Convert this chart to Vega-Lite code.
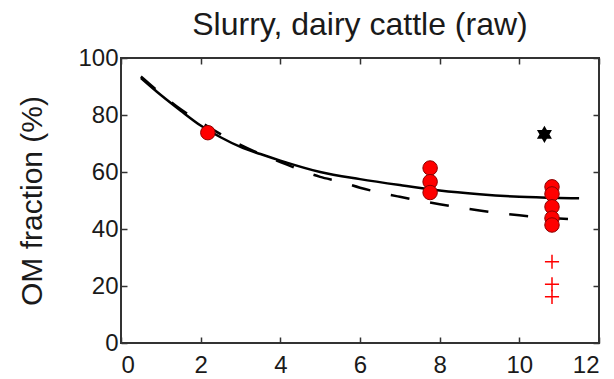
{
  "$schema": "https://vega.github.io/schema/vega-lite/v6.json",
  "width": 478,
  "height": 285,
  "autosize": "none",
  "padding": {"left": 121, "top": 58, "right": 15, "bottom": 36},
  "background": "white",
  "config": {
    "font": "Liberation Sans",
    "view": {"stroke": "#333", "strokeWidth": 2},
    "axis": {"grid": false, "domain": false, "tickColor": "#333", "tickSize": -6, "tickWidth": 1.5, "labelFont": "Liberation Sans", "labelFontSize": 24, "labelColor": "#1a1a1a", "titleFont": "Liberation Sans", "titleColor": "#1a1a1a", "titleFontWeight": "normal"}
  },
  "title": {"text": "Slurry, dairy cattle (raw)", "font": "Liberation Sans", "fontSize": 32, "fontWeight": "normal", "color": "#1a1a1a", "offset": 4},
  "datasets": {
    "solid": [
      {"x": 0.5, "y": 93}, {"x": 1, "y": 87}, {"x": 1.5, "y": 81.5}, {"x": 2, "y": 76.3},
      {"x": 2.5, "y": 72.2}, {"x": 3, "y": 68.8}, {"x": 3.5, "y": 66.3}, {"x": 4, "y": 64},
      {"x": 5, "y": 60}, {"x": 6, "y": 57.5}, {"x": 7, "y": 55.4}, {"x": 8, "y": 53.5},
      {"x": 9, "y": 52.2}, {"x": 10, "y": 51.3}, {"x": 11, "y": 50.9}, {"x": 11.5, "y": 50.8}
    ],
    "dashed": [
      {"x": 0.5, "y": 93.5}, {"x": 1, "y": 87.5}, {"x": 1.5, "y": 82}, {"x": 2, "y": 77.5},
      {"x": 3, "y": 69.5}, {"x": 4, "y": 63.5}, {"x": 5, "y": 58.3}, {"x": 5.5, "y": 56.6},
      {"x": 6, "y": 54.5}, {"x": 7, "y": 51.3}, {"x": 8, "y": 48.7}, {"x": 9, "y": 46.5},
      {"x": 10, "y": 44.8}, {"x": 11, "y": 43.7}, {"x": 11.5, "y": 43.2}
    ],
    "circles": [
      {"x": 2.18, "y": 73.8},
      {"x": 7.76, "y": 61.4}, {"x": 7.76, "y": 56.6}, {"x": 7.76, "y": 52.8},
      {"x": 10.82, "y": 54.8}, {"x": 10.82, "y": 52.3}, {"x": 10.82, "y": 47.8}, {"x": 10.82, "y": 43.8}, {"x": 10.82, "y": 41.4}
    ],
    "star": [{"x": 10.63, "y": 73.2}],
    "plus": [{"x": 10.82, "y": 28.5}, {"x": 10.82, "y": 20.6}, {"x": 10.82, "y": 16.2}]
  },
  "layer": [
    {
      "data": {"name": "solid"},
      "mark": {"type": "line", "color": "black", "strokeWidth": 2.5, "interpolate": "monotone"},
      "encoding": {
        "x": {"field": "x", "type": "quantitative", "scale": {"domain": [0, 12]}, "axis": {"values": [0, 2, 4, 6, 8, 10, 12], "title": null, "labelPadding": 16}},
        "y": {"field": "y", "type": "quantitative", "scale": {"domain": [0, 100]}, "axis": {"values": [0, 20, 40, 60, 80, 100], "title": "OM fraction (%)", "titleFontSize": 30, "labelPadding": 9, "titlePadding": 30}}
      }
    },
    {
      "data": {"name": "dashed"},
      "mark": {"type": "line", "color": "black", "strokeWidth": 2.5, "strokeDash": [19, 21], "interpolate": "monotone"},
      "encoding": {
        "x": {"field": "x", "type": "quantitative", "axis": {"orient": "top", "values": [0, 2, 4, 6, 8, 10, 12], "labels": false, "title": null}},
        "y": {"field": "y", "type": "quantitative", "axis": {"orient": "right", "values": [0, 20, 40, 60, 80, 100], "labels": false, "title": null}}
      }
    },
    {
      "data": {"name": "circles"},
      "mark": {"type": "point", "shape": "circle", "filled": true, "fill": "#ff0000", "stroke": "#8b0000", "strokeWidth": 1, "size": 210, "opacity": 1},
      "encoding": {
        "x": {"field": "x", "type": "quantitative", "axis": null},
        "y": {"field": "y", "type": "quantitative", "axis": null}
      }
    },
    {
      "data": {"name": "star"},
      "mark": {"type": "point", "shape": "M0,-1L0.866,0.5L-0.866,0.5Z M0,1L-0.866,-0.5L0.866,-0.5Z", "filled": true, "fill": "black", "size": 300, "opacity": 1},
      "encoding": {
        "x": {"field": "x", "type": "quantitative", "axis": null},
        "y": {"field": "y", "type": "quantitative", "axis": null}
      }
    },
    {
      "data": {"name": "plus"},
      "mark": {"type": "point", "shape": "M-1,0L1,0M0,-1L0,1", "filled": false, "stroke": "#ff0000", "strokeWidth": 1.5, "size": 200, "opacity": 1},
      "encoding": {
        "x": {"field": "x", "type": "quantitative", "axis": null},
        "y": {"field": "y", "type": "quantitative", "axis": null}
      }
    }
  ],
  "resolve": {"axis": {"x": "independent", "y": "independent"}}
}
